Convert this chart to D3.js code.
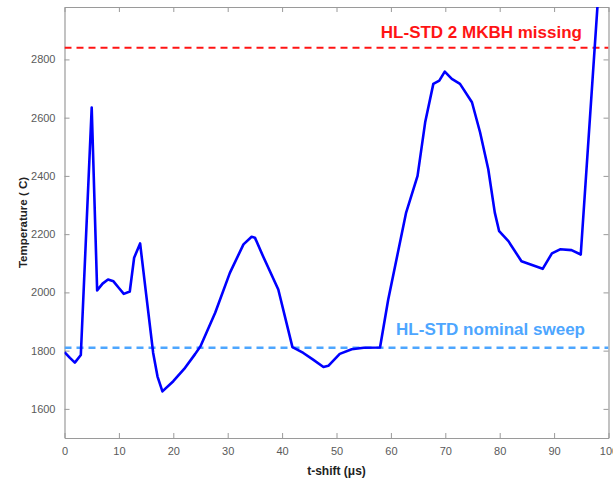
<!DOCTYPE html>
<html><head><meta charset="utf-8">
<script src="https://cdn.jsdelivr.net/npm/d3@7"></script>
<style>body{margin:0;background:#fff}svg{display:block}</style>
</head><body><svg id="c" width="613" height="478"></svg>
<script>
const tShift = [0,1,1.9,3,5,6,7,8,9,10,10.9,12,12.8,13.9,15,16.3,17.1,18,20,22,24,25,27.7,30.4,32.9,34.4,35,36.5,39.3,41.9,43.9,45.7,47.6,48.5,50.6,52.8,55,58,59.5,62.8,64.9,66.3,67.8,68.9,69.9,71.2,72.7,74.9,76.4,77.9,79.1,79.9,81.6,84,87.9,89.6,91.1,93.2,94.9,98,100];
const temperature = [1795,1775,1759,1785,2635,2007,2030,2044,2038,2015,1995,2003,2119,2168,1995,1792,1711,1660,1695,1737,1788,1815,1930,2067,2165,2191,2188,2124,2010,1812,1792,1769,1744,1748,1789,1805,1810,1811,1975,2274,2400,2584,2716,2727,2758,2733,2716,2653,2549,2423,2274,2210,2176,2107,2081,2134,2148,2145,2130,2990,3550];
const xTicks = [0,10,20,30,40,50,60,70,80,90,100];
const yTicks = [1600,1800,2000,2200,2400,2600,2800];
const refLevels = [2840, 1810];
const refLabels = ["HL-STD 2 MKBH missing", "HL-STD nominal sweep"];
const refColors = ["#ff1414", "#4da6ff"];

const svg = d3.select("#c");
const L = 64.5, R = 608.5, T = 7, B = 438;
const x = d3.scaleLinear().domain([0,100]).range([L,R]);
const y = d3.scaleLinear().domain([1500,2980]).range([B,T]);
const font = "'Liberation Sans', Arial, sans-serif";

svg.append("defs").append("clipPath").attr("id","clip")
  .append("rect").attr("x",L).attr("y",T).attr("width",R-L).attr("height",B-T);

function styleAxis(g, labels){
  g.selectAll("path").attr("stroke","#9a9a9a").attr("stroke-width",1.2);
  g.selectAll("line").attr("stroke","#9a9a9a").attr("stroke-width",1);
  g.selectAll("text").attr("fill", labels ? "#5a5a5a" : "none")
    .style("font-family", font).style("font-size","11px");
}
svg.append("g").attr("transform",`translate(0,${B})`)
  .call(d3.axisBottom(x).tickValues(xTicks).tickFormat(d3.format("d")).tickSizeInner(-5).tickSizeOuter(0).tickPadding(9))
  .call(g=>styleAxis(g,true));
svg.append("g").attr("transform",`translate(0,${T})`)
  .call(d3.axisTop(x).tickValues(xTicks).tickSizeInner(-5).tickSizeOuter(0).tickFormat(""))
  .call(g=>styleAxis(g,false));
svg.append("g").attr("transform",`translate(${L},0)`)
  .call(d3.axisLeft(y).tickValues(yTicks).tickFormat(d3.format("d")).tickSizeInner(-5).tickSizeOuter(0).tickPadding(9))
  .call(g=>styleAxis(g,true));
svg.append("g").attr("transform",`translate(${R},0)`)
  .call(d3.axisRight(y).tickValues(yTicks).tickSizeInner(-5).tickSizeOuter(0).tickFormat(""))
  .call(g=>styleAxis(g,false));

const plot = svg.append("g").attr("clip-path","url(#clip)");
refLevels.forEach((v,i)=>{
  plot.append("line").attr("x1",L).attr("x2",R).attr("y1",y(v)).attr("y2",y(v))
    .attr("stroke",refColors[i]).attr("stroke-width",i===0?2.2:2.6)
    .attr("stroke-dasharray","7,5");
});
plot.append("path").datum(tShift.map((t,i)=>[t,temperature[i]]))
  .attr("d", d3.line().x(d=>x(d[0])).y(d=>y(d[1])))
  .attr("fill","none").attr("stroke","#0000ff").attr("stroke-width",2.6)
  .attr("stroke-linejoin","round");

svg.append("text").attr("x",582).attr("y",y(refLevels[0])-10).attr("text-anchor","end")
  .attr("fill",refColors[0]).style("font-family",font).style("font-weight","bold").style("font-size","17px")
  .text(refLabels[0]);
svg.append("text").attr("x",585).attr("y",y(refLevels[1])-13).attr("text-anchor","end")
  .attr("fill",refColors[1]).style("font-family",font).style("font-weight","bold").style("font-size","17px")
  .text(refLabels[1]);

svg.append("text").attr("x",(L+R)/2).attr("y",475).attr("text-anchor","middle")
  .attr("fill","#222").style("font-family",font).style("font-weight","bold").style("font-size","12px")
  .text("t-shift (\u03bcs)");
svg.append("text").attr("transform",`translate(27,${(T+B)/2}) rotate(-90)`).attr("text-anchor","middle")
  .attr("fill","#222").style("font-family",font).style("font-weight","bold").style("font-size","11.5px")
  .text("Temperature ( C)");
</script></body></html>
